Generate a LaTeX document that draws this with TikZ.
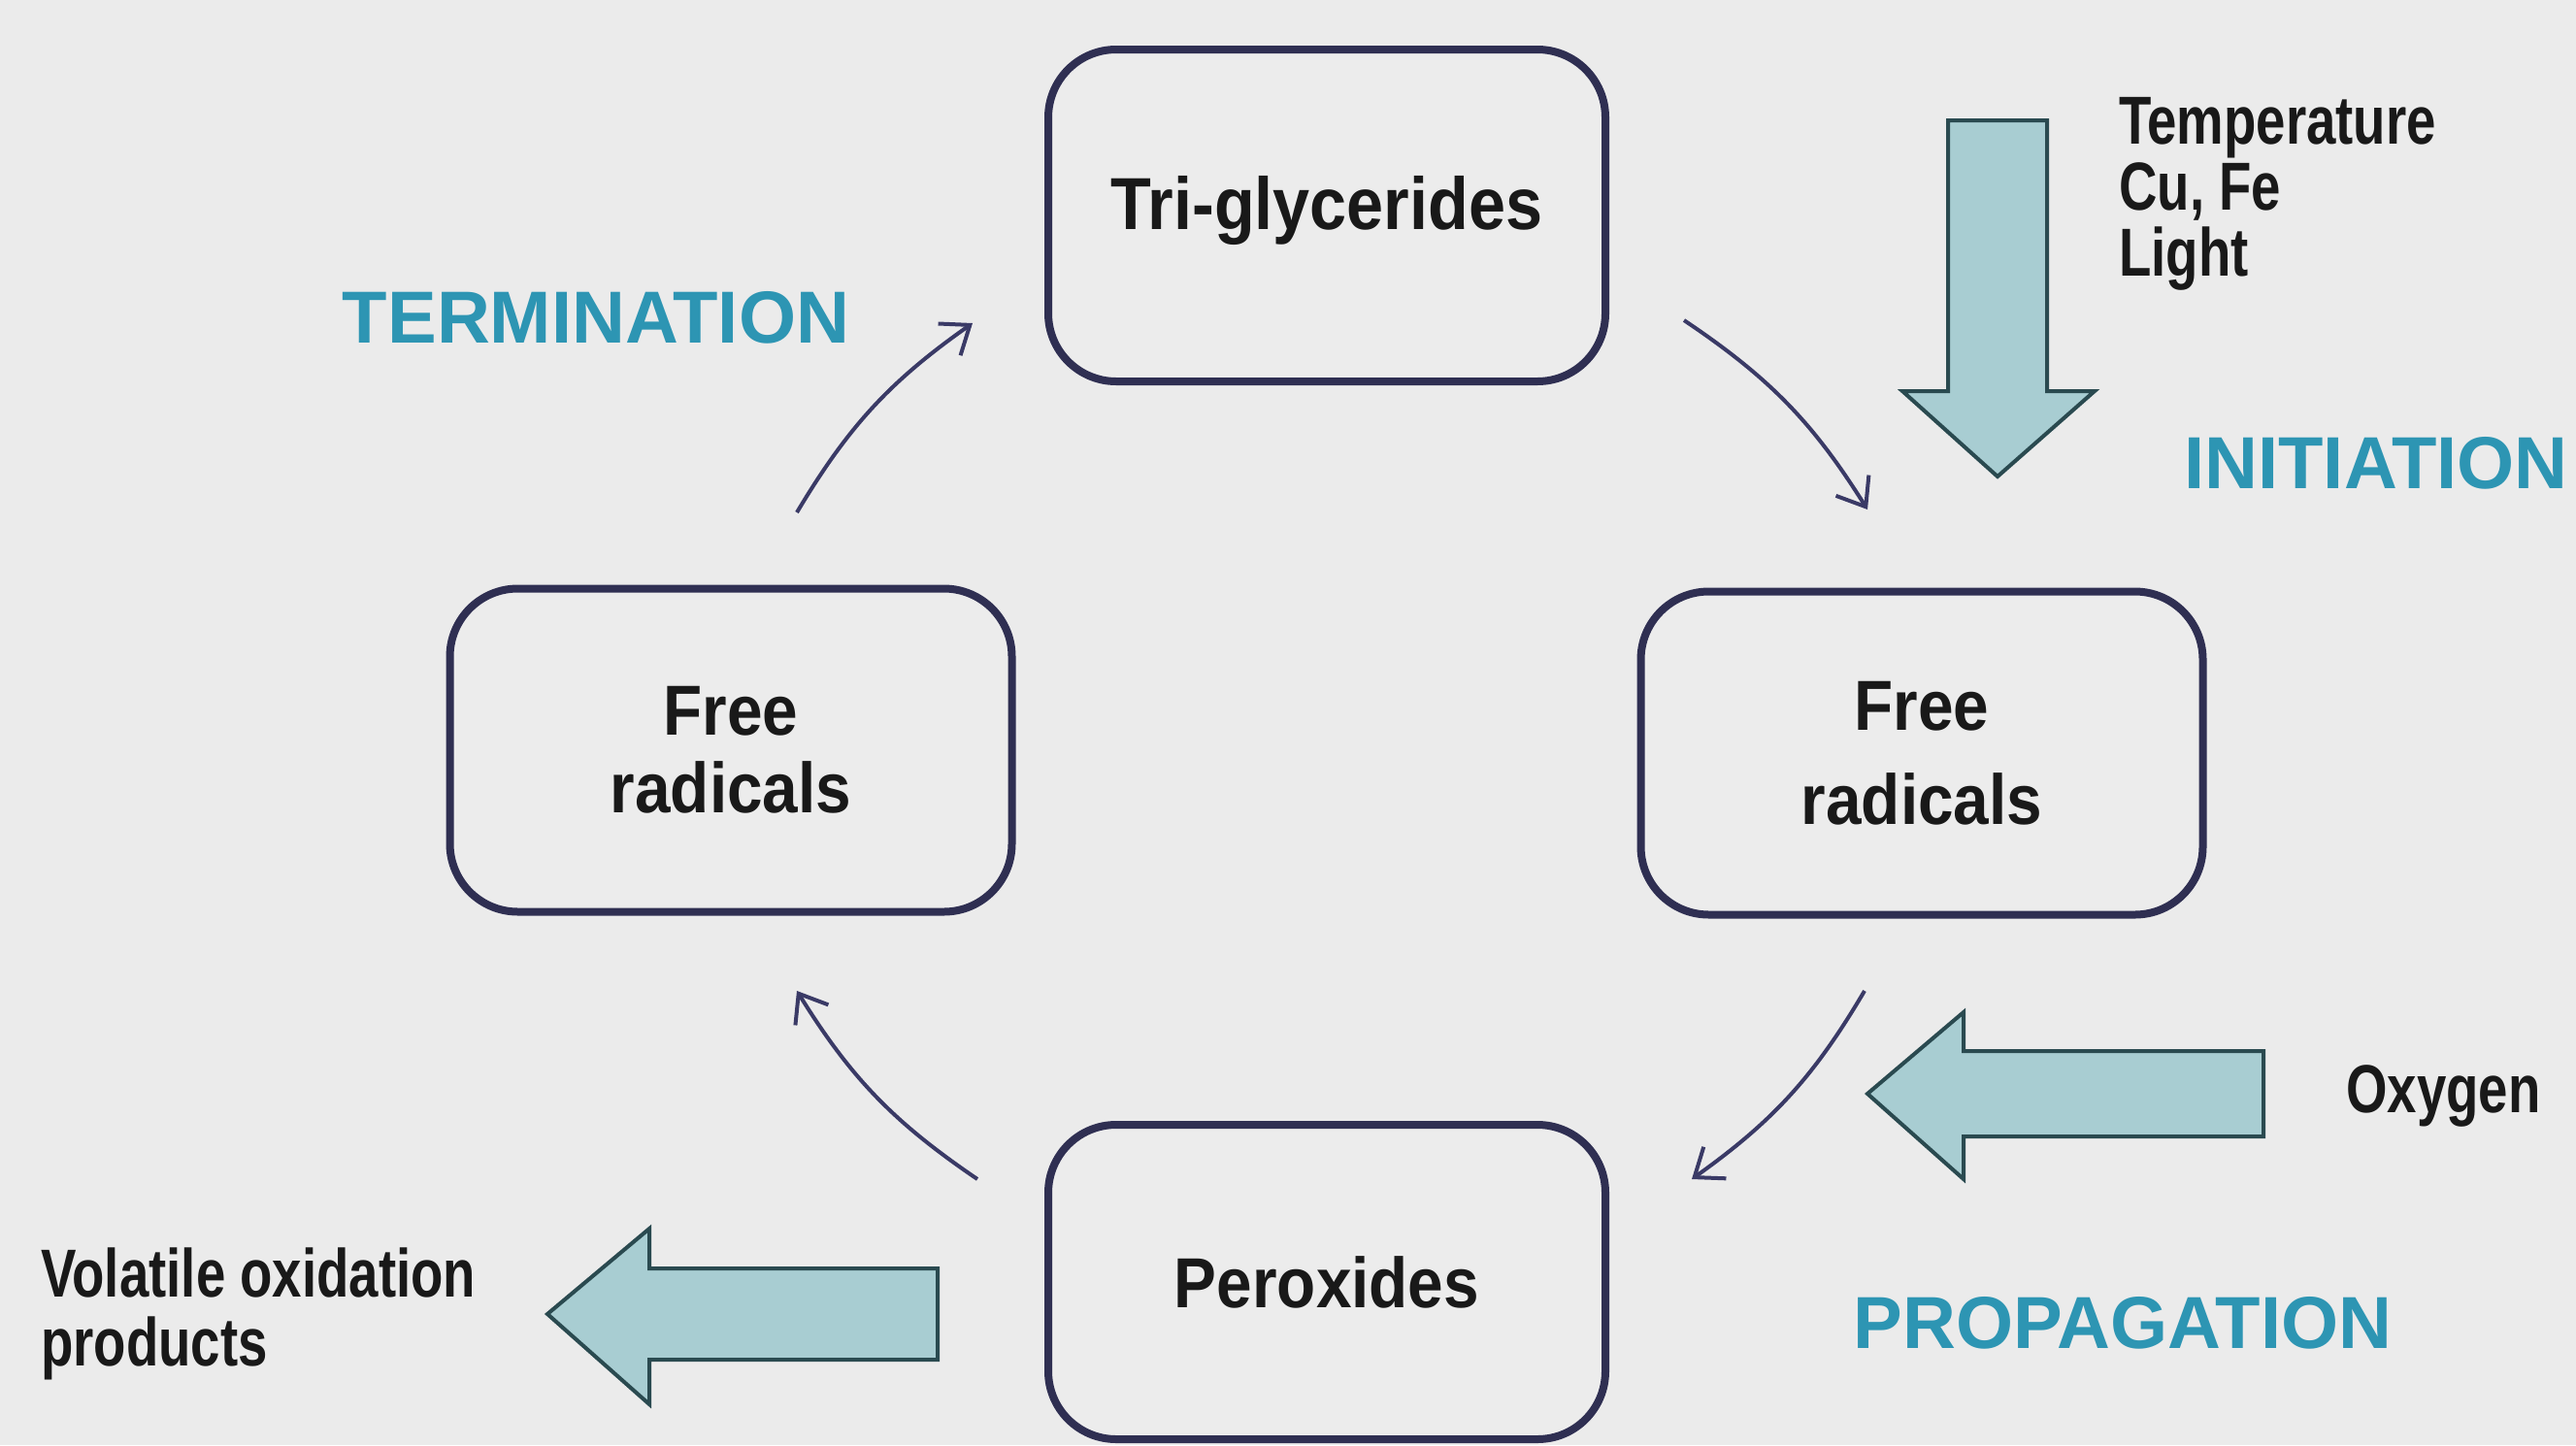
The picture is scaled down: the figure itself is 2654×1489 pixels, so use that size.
\documentclass[tikz,border=0pt]{standalone}
\usepackage{fontspec}
\setmainfont{Liberation Sans}
\newfontfamily\boxfont[FakeStretch=0.9]{Liberation Sans}
\newfontfamily\narrowfont[FakeStretch=0.78]{Liberation Sans}
\usetikzlibrary{arrows.meta}
\definecolor{bg}{HTML}{EBEBEB}
\definecolor{boxfill}{HTML}{ECECEC}
\definecolor{boxline}{HTML}{2F2F52}
\definecolor{connc}{HTML}{3A3A66}
\definecolor{phasec}{HTML}{2D95B3}
\definecolor{arrowfill}{HTML}{A8CDD2}
\definecolor{arrowline}{HTML}{2A4A50}
\tikzset{
  stage/.style={draw=boxline, line width=8pt, rounded corners=70pt, fill=boxfill,
    text=black!90, align=center, inner sep=0pt,
    font=\boxfont\bfseries\fontsize{73}{80}\selectfont},
  conn/.style={draw=connc, line width=4pt,
    -{Straight Barb[length=26pt,width=40pt]}},
  phase/.style={text=phasec, inner sep=0pt, font=\bfseries\fontsize{76}{90}\selectfont},
  note/.style={text=black!90, align=left, inner sep=0pt,
    font=\narrowfont\bfseries\fontsize{70}{68}\selectfont},
  blockarrow/.style={fill=arrowfill, draw=arrowline, line width=4pt, line join=miter}
}
\begin{document}
\begin{tikzpicture}[x=1pt,y=-1pt]
\fill[bg] (0,0) rectangle (2654,1489);
\useasboundingbox (0,0) rectangle (2654,1489);

% stage boxes
\node[stage, minimum width=574pt, minimum height=342pt] (tri) at (1367,222) {};
\node[text=black!90, inner sep=0pt, font=\boxfont\bfseries\fontsize{76}{80}\selectfont] (tritext) at (1367,217) {Tri-glycerides};
\node[stage, minimum width=579pt, minimum height=333pt] (frl) at (753,773) {Free\\radicals};
\node[stage, minimum width=579pt, minimum height=333pt, font=\boxfont\bfseries\fontsize{73}{97}\selectfont] (frr) at (1980,776) {Free\\radicals};
\node[stage, minimum width=574pt, minimum height=324pt] (per) at (1367,1321) {Peroxides};

% cycle connectors
\coordinate (c1s) at (1735,330);  \coordinate (c1e) at (1924,525);
\coordinate (c2s) at (1921,1021); \coordinate (c2e) at (1743,1215);
\coordinate (c3s) at (1007,1215); \coordinate (c3e) at (821,1021);
\coordinate (c4s) at (821,528);   \coordinate (c4e) at (1002,333);
\draw[conn] (c1s) to[bend left=12] (c1e);
\draw[conn] (c2s) to[bend left=12] (c2e);
\draw[conn] (c3s) to[bend left=12] (c3e);
\draw[conn] (c4s) to[bend left=12] (c4e);

% block arrows
\draw[blockarrow] (2007,124) -- (2109,124) -- (2109,403) -- (2158,403) -- (2058,491) -- (1960,403) -- (2007,403) -- cycle;
\draw[blockarrow] (2332,1083) -- (2023,1083) -- (2023,1043) -- (1924,1127) -- (2023,1215) -- (2023,1171) -- (2332,1171) -- cycle;
\draw[blockarrow] (966,1307) -- (669,1307) -- (669,1266) -- (564,1354) -- (669,1447) -- (669,1401) -- (966,1401) -- cycle;

% phase labels
\node[phase] (term) at (614,327) {TERMINATION};
\node[phase] (init) at (2448,477) {INITIATION};
\node[phase] (prop) at (2187,1363) {PROPAGATION};

% side notes
\node[note, anchor=west] (cond) at (2183,200) {Temperature\\Cu, Fe\\Light};
\node[note, anchor=west] (oxy) at (2417,1129) {Oxygen};
\node[note, anchor=west, font=\narrowfont\bfseries\fontsize{70}{71}\selectfont] (vol) at (42,1354) {Volatile oxidation\\products};
\end{tikzpicture}
\end{document}
